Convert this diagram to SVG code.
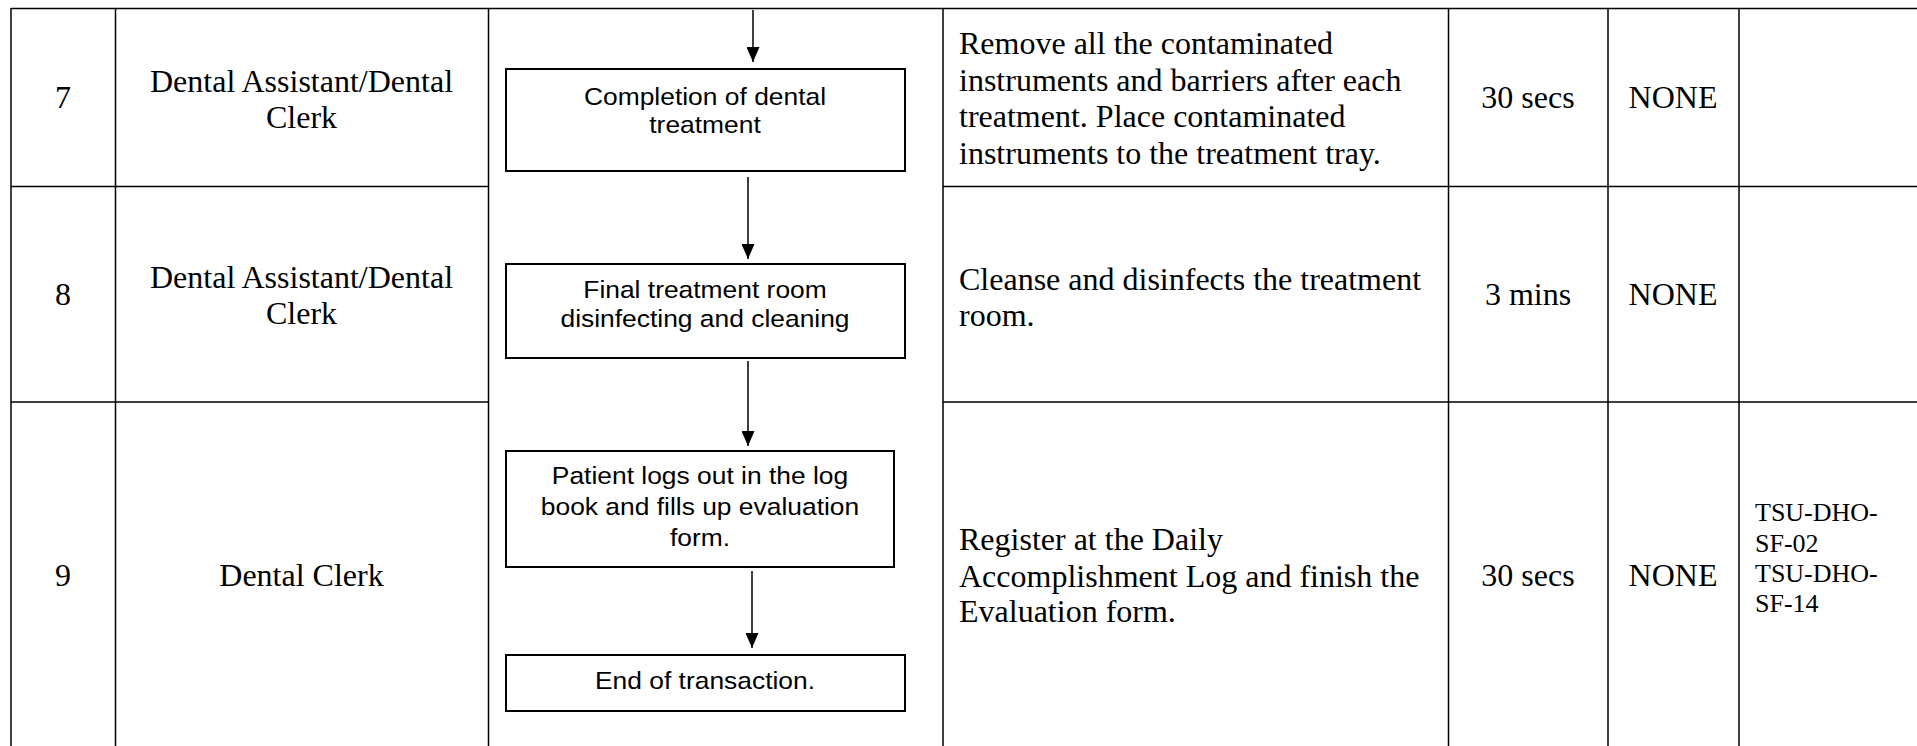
<svg xmlns="http://www.w3.org/2000/svg" width="1917" height="746" viewBox="0 0 1917 746">
<style>
.grid{stroke:#000;stroke-width:1.5;fill:none}
.box{fill:#fff;stroke:#000;stroke-width:2}
.con{stroke:#000;stroke-width:1.5;fill:none}
.tr{font-family:"Liberation Serif","Times New Roman",serif;font-size:32px;fill:#000}
.c{text-anchor:middle}
.sf{font-family:"Liberation Serif","Times New Roman",serif;font-size:26px;fill:#000}
.ar{font-family:"Liberation Sans",Arial,sans-serif;font-size:24px;fill:#000;text-anchor:middle}
</style>
<defs>
<marker id="ah" markerUnits="userSpaceOnUse" markerWidth="15" markerHeight="13" viewBox="0 0 15 13" refX="15" refY="6.5" orient="auto">
<path d="M0,0 L15,6.5 L0,13 z" fill="#000"/>
</marker>
</defs>
<rect width="1917" height="746" fill="#fff"/>
<g id="table">
<path class="grid" d="M11,8.5 H1917 M11,186.5 H488.5 M943,186.5 H1917 M11,402 H488.5 M943,402 H1917 M11,8 V746 M115.5,8 V746 M488.5,8 V746 M943,8 V746 M1448.5,8 V746 M1608,8 V746 M1739,8 V746"/>
</g>
<g id="row7">
<text class="tr c" x="63" y="108">7</text>
<text class="tr c" x="301.5" y="92">Dental Assistant/Dental</text>
<text class="tr c" x="301.5" y="128">Clerk</text>
<text class="tr" x="959" y="54">Remove all the contaminated</text>
<text class="tr" x="959" y="91">instruments and barriers after each</text>
<text class="tr" x="959" y="127">treatment. Place contaminated</text>
<text class="tr" x="959" y="164">instruments to the treatment tray.</text>
<text class="tr c" x="1528" y="108">30 secs</text>
<text class="tr c" x="1673" y="108">NONE</text>
</g>
<g id="row8">
<text class="tr c" x="63" y="305">8</text>
<text class="tr c" x="301.5" y="288">Dental Assistant/Dental</text>
<text class="tr c" x="301.5" y="324">Clerk</text>
<text class="tr" x="959" y="290">Cleanse and disinfects the treatment</text>
<text class="tr" x="959" y="326">room.</text>
<text class="tr c" x="1528" y="305">3 mins</text>
<text class="tr c" x="1673" y="305">NONE</text>
</g>
<g id="row9">
<text class="tr c" x="63" y="586">9</text>
<text class="tr c" x="301.5" y="586">Dental Clerk</text>
<text class="tr" x="959" y="550">Register at the Daily</text>
<text class="tr" x="959" y="587">Accomplishment Log and finish the</text>
<text class="tr" x="959" y="622">Evaluation form.</text>
<text class="tr c" x="1528" y="586">30 secs</text>
<text class="tr c" x="1673" y="586">NONE</text>
<text class="sf" x="1755" y="521">TSU-DHO-</text>
<text class="sf" x="1755" y="552">SF-02</text>
<text class="sf" x="1755" y="582">TSU-DHO-</text>
<text class="sf" x="1755" y="612">SF-14</text>
</g>
<g id="connectors">
<path class="con" d="M753,10 V62" marker-end="url(#ah)"/>
<path class="con" d="M748,177 V259" marker-end="url(#ah)"/>
<path class="con" d="M748,361 V446" marker-end="url(#ah)"/>
<path class="con" d="M752,571 V648" marker-end="url(#ah)"/>
</g>
<g id="node-completion">
<rect class="box" x="506" y="69" width="399" height="102"/>
<text class="ar" transform="translate(705,105) scale(1.1,1)">Completion of dental</text>
<text class="ar" transform="translate(705,133) scale(1.1,1)">treatment</text>
</g>
<g id="node-final-cleaning">
<rect class="box" x="506" y="264" width="399" height="94"/>
<text class="ar" transform="translate(705,298) scale(1.1,1)">Final treatment room</text>
<text class="ar" transform="translate(705,327) scale(1.1,1)">disinfecting and cleaning</text>
</g>
<g id="node-logout">
<rect class="box" x="506" y="451" width="388" height="116"/>
<text class="ar" transform="translate(700,484) scale(1.1,1)">Patient logs out in the log</text>
<text class="ar" transform="translate(700,515) scale(1.1,1)">book and fills up evaluation</text>
<text class="ar" transform="translate(700,546) scale(1.1,1)">form.</text>
</g>
<g id="node-end">
<rect class="box" x="506" y="655" width="399" height="56"/>
<text class="ar" transform="translate(705,689) scale(1.1,1)">End of transaction.</text>
</g>
</svg>
